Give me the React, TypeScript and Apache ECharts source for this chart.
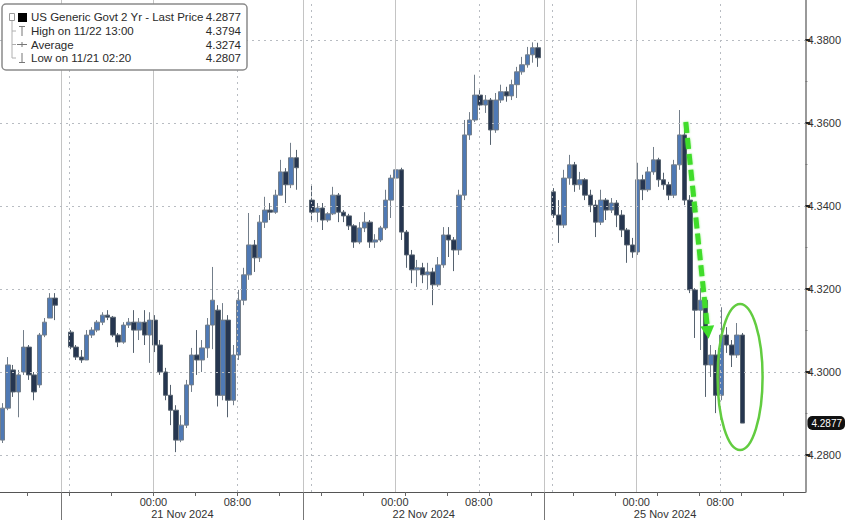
import React, { useEffect, useRef } from "react";
import * as echarts from "echarts";

// ---------- DATA (30-minute bars: [open, close, low, high]) ----------
const nov20Bars: number[][] = [
  [4.2836, 4.2913, 4.2829, 4.2925],
  [4.2913, 4.3017, 4.2908, 4.3036],
  [4.3005, 4.2952, 4.2940, 4.3017],
  [4.2952, 4.2993, 4.2891, 4.3005],
  [4.3000, 4.3060, 4.2993, 4.3101],
  [4.3060, 4.2993, 4.2981, 4.3065],
  [4.2993, 4.2952, 4.2932, 4.3000],
  [4.2969, 4.3089, 4.2962, 4.3094],
  [4.3089, 4.3120, 4.3084, 4.3130],
  [4.3130, 4.3178, 4.3130, 4.3190],
  [4.3178, 4.3161, 4.3125, 4.3190],
];
const nov21Bars: number[][] = [
  [4.3096, 4.3060, 4.3055, 4.3101],
  [4.3060, 4.3036, 4.3029, 4.3065],
  [4.3036, 4.3029, 4.3022, 4.3053],
  [4.3029, 4.3089, 4.3029, 4.3101],
  [4.3089, 4.3101, 4.3082, 4.3108],
  [4.3101, 4.3120, 4.3096, 4.3125],
  [4.3120, 4.3137, 4.3113, 4.3144],
  [4.3137, 4.3132, 4.3125, 4.3149],
  [4.3132, 4.3089, 4.3084, 4.3135],
  [4.3089, 4.3072, 4.3060, 4.3094],
  [4.3072, 4.3113, 4.3068, 4.3120],
  [4.3113, 4.3120, 4.3106, 4.3130],
  [4.3120, 4.3101, 4.3046, 4.3149],
  [4.3101, 4.3120, 4.3077, 4.3130],
  [4.3120, 4.3089, 4.3065, 4.3149],
  [4.3089, 4.3125, 4.3022, 4.3144],
  [4.3125, 4.3065, 4.3048, 4.3137],
  [4.3065, 4.3000, 4.2993, 4.3077],
  [4.3000, 4.2944, 4.2932, 4.3010],
  [4.2944, 4.2908, 4.2872, 4.2969],
  [4.2908, 4.2836, 4.2807, 4.2920],
  [4.2836, 4.2872, 4.2831, 4.2896],
  [4.2872, 4.2969, 4.2865, 4.2981],
  [4.2969, 4.3041, 4.2952, 4.3058],
  [4.3041, 4.3029, 4.2993, 4.3101],
  [4.3029, 4.3058, 4.3000, 4.3077],
  [4.3058, 4.3113, 4.3034, 4.3130],
  [4.3113, 4.3173, 4.3055, 4.3253],
  [4.3149, 4.2944, 4.2917, 4.3161],
  [4.2944, 4.3125, 4.2932, 4.3166],
  [4.3125, 4.2932, 4.2891, 4.3137],
  [4.2932, 4.3041, 4.2920, 4.3065],
  [4.3041, 4.3173, 4.3029, 4.3198],
  [4.3173, 4.3234, 4.3161, 4.3251],
  [4.3234, 4.3306, 4.3222, 4.3383],
  [4.3306, 4.3275, 4.3241, 4.3318],
  [4.3275, 4.3361, 4.3265, 4.3378],
  [4.3361, 4.3390, 4.3347, 4.3422],
  [4.3390, 4.3385, 4.3366, 4.3407],
  [4.3385, 4.3426, 4.3381, 4.3439],
  [4.3426, 4.3482, 4.3426, 4.3511],
  [4.3482, 4.3451, 4.3407, 4.3491],
  [4.3451, 4.3516, 4.3443, 4.3552],
  [4.3516, 4.3492, 4.3439, 4.3535],
];
const nov22Bars: number[][] = [
  [4.3414, 4.3385, 4.3366, 4.3451],
  [4.3385, 4.3395, 4.3361, 4.3407],
  [4.3395, 4.3366, 4.3342, 4.3407],
  [4.3366, 4.3381, 4.3361, 4.3385],
  [4.3381, 4.3426, 4.3378, 4.3446],
  [4.3426, 4.3385, 4.3361, 4.3431],
  [4.3385, 4.3376, 4.3361, 4.3390],
  [4.3376, 4.3352, 4.3342, 4.3381],
  [4.3352, 4.3313, 4.3299, 4.3356],
  [4.3313, 4.3347, 4.3308, 4.3361],
  [4.3347, 4.3361, 4.3337, 4.3385],
  [4.3361, 4.3313, 4.3299, 4.3366],
  [4.3313, 4.3318, 4.3299, 4.3332],
  [4.3318, 4.3347, 4.3313, 4.3352],
  [4.3347, 4.3414, 4.3342, 4.3439],
  [4.3414, 4.3467, 4.3371, 4.3475],
  [4.3467, 4.3487, 4.3434, 4.3518],
  [4.3487, 4.3337, 4.3318, 4.3492],
  [4.3337, 4.3282, 4.3251, 4.3342],
  [4.3282, 4.3246, 4.3214, 4.3294],
  [4.3246, 4.3251, 4.3205, 4.3270],
  [4.3251, 4.3234, 4.3214, 4.3263],
  [4.3234, 4.3241, 4.3198, 4.3263],
  [4.3241, 4.3210, 4.3161, 4.3251],
  [4.3210, 4.3258, 4.3205, 4.3277],
  [4.3258, 4.3330, 4.3251, 4.3349],
  [4.3330, 4.3318, 4.3277, 4.3349],
  [4.3318, 4.3294, 4.3243, 4.3325],
  [4.3294, 4.3426, 4.3282, 4.3439],
  [4.3426, 4.3571, 4.3414, 4.3607],
  [4.3571, 4.3607, 4.3559, 4.3626],
  [4.3607, 4.3667, 4.3602, 4.3716],
  [4.3667, 4.3643, 4.3631, 4.3679],
  [4.3643, 4.3655, 4.3624, 4.3667],
  [4.3655, 4.3583, 4.3547, 4.3660],
  [4.3583, 4.3655, 4.3576, 4.3672],
  [4.3655, 4.3675, 4.3648, 4.3692],
  [4.3675, 4.3665, 4.3651, 4.3687],
  [4.3665, 4.3692, 4.3655, 4.3704],
  [4.3692, 4.3723, 4.3660, 4.3735],
  [4.3723, 4.3740, 4.3716, 4.3759],
  [4.3740, 4.3764, 4.3733, 4.3783],
  [4.3764, 4.3781, 4.3745, 4.3794],
  [4.3781, 4.3757, 4.3735, 4.3793],
];
const nov25Bars: number[][] = [
  [4.3434, 4.3378, 4.3371, 4.3443],
  [4.3378, 4.3354, 4.3311, 4.3414],
  [4.3354, 4.3467, 4.3347, 4.3487],
  [4.3467, 4.3499, 4.3451, 4.3523],
  [4.3499, 4.3451, 4.3434, 4.3506],
  [4.3451, 4.3463, 4.3439, 4.3482],
  [4.3463, 4.3426, 4.3414, 4.3467],
  [4.3426, 4.3402, 4.3385, 4.3439],
  [4.3402, 4.3361, 4.3325, 4.3414],
  [4.3361, 4.3414, 4.3354, 4.3439],
  [4.3414, 4.3390, 4.3366, 4.3419],
  [4.3390, 4.3407, 4.3383, 4.3419],
  [4.3407, 4.3378, 4.3349, 4.3414],
  [4.3378, 4.3342, 4.3325, 4.3390],
  [4.3342, 4.3306, 4.3263, 4.3347],
  [4.3306, 4.3289, 4.3275, 4.3323],
  [4.3289, 4.3463, 4.3282, 4.3504],
  [4.3463, 4.3439, 4.3414, 4.3475],
  [4.3439, 4.3482, 4.3434, 4.3494],
  [4.3482, 4.3511, 4.3475, 4.3542],
  [4.3511, 4.3463, 4.3446, 4.3516],
  [4.3463, 4.3451, 4.3439, 4.3480],
  [4.3451, 4.3426, 4.3414, 4.3458],
  [4.3426, 4.3499, 4.3419, 4.3511],
  [4.3499, 4.3571, 4.3487, 4.3631],
  [4.3571, 4.3414, 4.3402, 4.3588],
  [4.3414, 4.3198, 4.3190, 4.3426],
  [4.3198, 4.3149, 4.3082, 4.3202],
  [4.3149, 4.3173, 4.3053, 4.3202],
  [4.3173, 4.3017, 4.2940, 4.3178],
  [4.3017, 4.3041, 4.2988, 4.3065],
  [4.3041, 4.2944, 4.2901, 4.3053],
  [4.2944, 4.3089, 4.2932, 4.3156],
  [4.3089, 4.3065, 4.3046, 4.3108],
  [4.3065, 4.3041, 4.3012, 4.3077],
  [4.3041, 4.3089, 4.3034, 4.3118],
  [4.3089, 4.2877, 4.2877, 4.3094],
];

// Sessions on a compressed time axis measured in 30-minute slots
const sessionBars = [nov20Bars, nov21Bars, nov22Bars, nov25Bars];
const sessionFirstSlot = [0.5, 13.5, 59.5, 105.5];
const sessionSeparators = [11.75, 57.75, 103.75];
const sessionDates = ["21 Nov 2024", "22 Nov 2024", "25 Nov 2024"];
const hourLabelHours = [0, 8];
const hourLabelTexts = ["00:00", "08:00"];
const priceTicks = [4.28, 4.3, 4.32, 4.34, 4.36, 4.38];
const priceMinorTicks = [4.29, 4.31, 4.33, 4.35, 4.37];

const legendLabels = [
  "US Generic Govt 2 Yr - Last Price",
  "High on 11/22 13:00",
  "Average",
  "Low on 11/21 02:20",
];
const legendValues = ["4.2877", "4.3794", "4.3274", "4.2807"];

// annotation anchors in data space [slot, price]
const arrowFrom = [130.7, 4.3602];
const arrowTo = [135.05, 4.308];
const ellipseCenter = [141.05, 4.2988];

const X_MIN = 0;
const X_MAX = 153.5;
const Y_MIN = 4.2711;
const Y_MAX = 4.3896;
const FONT = "'Liberation Sans', Arial, sans-serif";

export default function App() {
  const ref = useRef<HTMLDivElement>(null);

  useEffect(() => {
    const el = ref.current;
    if (!el) return;
    const chart = echarts.init(el, undefined, { renderer: "svg" });

    const candleData: number[][] = [];
    sessionBars.forEach((bars, s) => {
      bars.forEach((b, i) => {
        candleData.push([sessionFirstSlot[s] + i, b[0], b[1], b[2], b[3]]);
      });
    });
    const lastClose = nov25Bars[nov25Bars.length - 1][1];

    const midnight = (sep: number) => sep + 17.5;
    const allSeps = [sessionSeparators[0] - 46, ...sessionSeparators];

    const hourLabelPos: number[] = [];
    const hourLabelMap: Record<string, string> = {};
    sessionSeparators.forEach((sep) => {
      hourLabelHours.forEach((h, k) => {
        const p = midnight(sep) + 2 * h;
        hourLabelPos.push(p);
        hourLabelMap[p.toFixed(2)] = hourLabelTexts[k];
      });
    });
    const fourHourTicks: number[] = [];
    for (let p = midnight(sessionSeparators[0]) - 24; p <= X_MAX; p += 8) {
      if (p >= X_MIN) fourHourTicks.push(p);
    }
    const dateCenters = sessionSeparators.map((s) => s + 23);
    const dateMap: Record<string, string> = {};
    dateCenters.forEach((c, i) => (dateMap[c.toFixed(2)] = sessionDates[i]));

    const solidStyle = { color: "#c4c4c4", width: 1, type: "solid" };
    const dotStyle = { color: "#b8bcc2", width: 1, type: [2, 4] };
    const gridLines: any[] = [];
    allSeps.forEach((sep) => {
      const cand = [
        { v: sep, st: solidStyle },
        { v: sep + 1.5, st: dotStyle },
        { v: midnight(sep), st: solidStyle },
        { v: midnight(sep) + 16, st: dotStyle },
      ];
      cand.forEach((c) => {
        if (c.v > X_MIN && c.v < X_MAX) gridLines.push({ xAxis: c.v, lineStyle: c.st });
      });
    });
    priceTicks.forEach((p) => gridLines.push({ yAxis: p, lineStyle: dotStyle }));

    const yBase = {
      type: "value",
      position: "right",
      min: Y_MIN,
      max: Y_MAX,
      splitLine: { show: false },
    };

    const option: any = {
      animation: false,
      backgroundColor: "#ffffff",
      textStyle: { fontFamily: FONT },
      grid: { left: 0, right: 42, top: 0, bottom: 28, containLabel: false },
      xAxis: [
        {
          type: "value",
          min: X_MIN,
          max: X_MAX,
          position: "bottom",
          axisLine: { show: true, onZero: false, lineStyle: { color: "#555", width: 1 } },
          axisTick: { show: true, customValues: fourHourTicks, length: 4, lineStyle: { color: "#666" } },
          axisLabel: {
            customValues: hourLabelPos,
            formatter: (v: number) => hourLabelMap[v.toFixed(2)] || "",
            color: "#333",
            fontSize: 11,
            fontFamily: FONT,
            margin: 4,
          },
          splitLine: { show: false },
        },
        {
          type: "value",
          min: X_MIN,
          max: X_MAX,
          position: "bottom",
          axisLine: { show: false, onZero: false },
          axisTick: { show: true, customValues: sessionSeparators, length: 28, lineStyle: { color: "#777" } },
          axisLabel: {
            customValues: dateCenters,
            formatter: (v: number) => dateMap[v.toFixed(2)] || "",
            color: "#333",
            fontSize: 11,
            fontFamily: FONT,
            margin: 16,
          },
          splitLine: { show: false },
        },
      ],
      yAxis: [
        {
          ...yBase,
          axisLine: { show: true, onZero: false, lineStyle: { color: "#777", width: 1.5 } },
          axisTick: { show: true, customValues: priceTicks, length: 5, lineStyle: { color: "#222", width: 2 } },
          axisLabel: {
            customValues: priceTicks,
            formatter: (v: number) => v.toFixed(4),
            color: "#333",
            fontSize: 11,
            fontFamily: FONT,
            margin: 2,
          },
        },
        {
          ...yBase,
          axisLine: { show: false, onZero: false },
          axisTick: { show: true, customValues: priceMinorTicks, length: 2, lineStyle: { color: "#777" } },
          axisLabel: { show: false },
        },
        {
          ...yBase,
          axisLine: { show: false, onZero: false },
          axisTick: { show: false },
          axisLabel: {
            customValues: [lastClose],
            formatter: (v: number) => v.toFixed(4),
            color: "#fff",
            backgroundColor: "#111",
            fontSize: 10,
            fontFamily: FONT,
            padding: [2, 3, 2, 4],
            borderRadius: 5,
            margin: 2,
          },
        },
      ],
      series: [
        {
          type: "line",
          data: [],
          z: 1,
          silent: true,
          markLine: {
            silent: true,
            symbol: ["none", "none"],
            precision: 4,
            label: { show: false },
            data: gridLines,
          },
        },
        {
          type: "candlestick",
          z: 3,
          barWidth: 5,
          data: candleData,
          itemStyle: {
            color: "#4f79b4",
            color0: "#263650",
            borderColor: "#737e8a",
            borderColor0: "#56626f",
            borderWidth: 1,
          },
        },
      ],
    };

    // legend box
    const rowY = [17, 31, 44.5, 58];
    const legendEls: any[] = [
      {
        type: "rect",
        id: "lg-box",
        shape: { x: 2, y: 4, width: 245, height: 66, r: 4 },
        style: { fill: "#ffffff", stroke: "#8a8a8a", lineWidth: 1.5 },
        z: 100,
      },
      {
        type: "line",
        id: "lg-tree",
        shape: { x1: 12, y1: 20, x2: 12, y2: 58 },
        style: { stroke: "#b0b0b0", lineWidth: 1 },
        z: 101,
      },
      {
        type: "rect",
        id: "lg-sq0",
        shape: { x: 9.5, y: 13.5, width: 5, height: 7 },
        style: { fill: "#ffffff", stroke: "#999", lineWidth: 1 },
        z: 101,
      },
      {
        type: "rect",
        id: "lg-sq1",
        shape: { x: 18, y: 13, width: 9, height: 9 },
        style: { fill: "#000" },
        z: 101,
      },
      { type: "line", id: "lg-h1", shape: { x1: 22, y1: 26, x2: 22, y2: 36 }, style: { stroke: "#777", lineWidth: 1 }, z: 101 },
      { type: "line", id: "lg-h2", shape: { x1: 19, y1: 26.5, x2: 25, y2: 26.5 }, style: { stroke: "#777", lineWidth: 1 }, z: 101 },
      { type: "line", id: "lg-a1", shape: { x1: 17, y1: 44.5, x2: 27, y2: 44.5 }, style: { stroke: "#777", lineWidth: 1 }, z: 101 },
      { type: "line", id: "lg-a2", shape: { x1: 22, y1: 42, x2: 22, y2: 47 }, style: { stroke: "#777", lineWidth: 1 }, z: 101 },
      { type: "line", id: "lg-l1", shape: { x1: 22, y1: 53, x2: 22, y2: 62 }, style: { stroke: "#777", lineWidth: 1 }, z: 101 },
      { type: "line", id: "lg-l2", shape: { x1: 19, y1: 62.5, x2: 25, y2: 62.5 }, style: { stroke: "#777", lineWidth: 1 }, z: 101 },
    ];
    rowY.forEach((y, i) => {
      if (i > 0) {
        legendEls.push({
          type: "line",
          id: "lg-br" + i,
          shape: { x1: 12, y1: y, x2: 16, y2: y },
          style: { stroke: "#b0b0b0", lineWidth: 1 },
          z: 101,
        });
      }
      legendEls.push({
        type: "text",
        id: "lg-t" + i,
        x: 31,
        y: y,
        style: {
          text: legendLabels[i],
          fill: "#2a2a2a",
          font: `11.5px ${FONT}`,
          verticalAlign: "middle",
        },
        z: 101,
      });
      legendEls.push({
        type: "text",
        id: "lg-v" + i,
        x: 241,
        y: y,
        style: {
          text: legendValues[i],
          fill: "#2a2a2a",
          font: `11.5px ${FONT}`,
          align: "right",
          verticalAlign: "middle",
        },
        z: 101,
      });
    });

    option.graphic = { elements: legendEls };
    chart.setOption(option);

    // annotations anchored to data coordinates
    const toPx = (p: number[]) => chart.convertToPixel({ seriesIndex: 1 }, p) as unknown as number[];
    const s = toPx(arrowFrom);
    const t = toPx(arrowTo);
    const c = toPx(ellipseCenter);
    if (s && t && c) {
      const dx = t[0] - s[0];
      const dy = t[1] - s[1];
      const len = Math.sqrt(dx * dx + dy * dy);
      const ux = dx / len;
      const uy = dy / len;
      const nx = -uy;
      const ny = ux;
      const headLen = 13;
      const headHalf = 7;
      const bx = t[0] - ux * headLen;
      const by = t[1] - uy * headLen;
      const green = "#3fdc2a";
      const annot: any[] = [
        {
          type: "line",
          id: "an-arrow",
          shape: { x1: s[0], y1: s[1], x2: bx + ux * 1, y2: by + uy * 1 },
          style: { stroke: green, lineWidth: 5, lineDash: [11, 5], shadowBlur: 2, shadowColor: "rgba(80,230,50,0.6)" },
          z: 90,
        },
        {
          type: "polygon",
          id: "an-head",
          shape: {
            points: [
              [t[0], t[1]],
              [bx + nx * headHalf, by + ny * headHalf],
              [bx - nx * headHalf, by - ny * headHalf],
            ],
          },
          style: { fill: green },
          z: 90,
        },
        {
          type: "ellipse",
          id: "an-ellipse",
          shape: { cx: c[0], cy: c[1], rx: 22.5, ry: 73 },
          style: { fill: "none", stroke: "#62cc40", lineWidth: 2.5 },
          z: 90,
        },
      ];
      chart.setOption({ graphic: { elements: [...legendEls, ...annot] } });
    }

    return () => {
      chart.dispose();
    };
  }, []);

  return (
    <div
      ref={ref}
      style={{ position: "fixed", left: 0, top: 0, width: 848, height: 520, background: "#fff" }}
    />
  );
}
